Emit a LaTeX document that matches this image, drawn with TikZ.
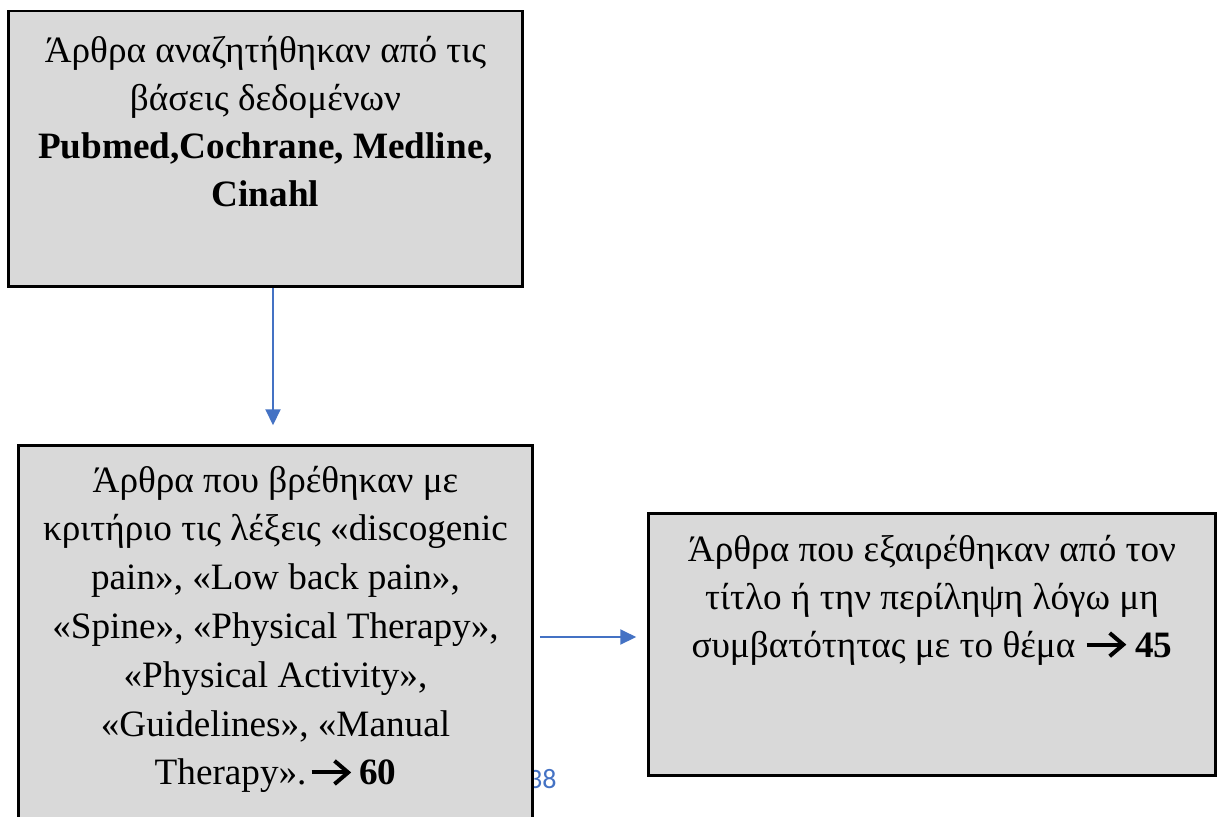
\documentclass[tikz,border=0pt]{standalone}
\usepackage{fontspec}
\setmainfont{Liberation Serif}
\newfontfamily\pgnumfont{Carlito}
\usetikzlibrary{arrows.meta}
\definecolor{boxgray}{HTML}{D9D9D9}
\definecolor{arrblue}{HTML}{4472C4}
\newcommand{\chevarrow}{\tikz[baseline=0pt,x=1pt,y=1pt]{\draw[line width=2pt, line cap=butt] (0,6.2) -- (18,6.2); \draw[line width=2pt, line join=miter] (11.5,12) -- (18.3,6.2) -- (11.5,0.4);}}
\begin{document}
\begin{tikzpicture}[x=0.5pt,y=-0.5pt,
  box/.style={draw=black, fill=boxgray, line width=1.25pt, inner sep=0pt, rectangle},
  txt/.style={inner sep=0pt, anchor=north, align=center, font=\fontsize{18.6pt}{24pt}\selectfont},
  arr/.style={draw=arrblue, line width=1pt, -{Triangle[length=8pt,width=7.5pt]}},
  pgnum/.style={inner sep=0pt, anchor=base east, text=arrblue, font=\pgnumfont\fontsize{14pt}{16pt}\selectfont}]
\clip (0,0) rectangle (1222,816);
\fill[white] (0,0) rectangle (1222,816);
% boxes
\node[box, minimum width=257pt, minimum height=137.75pt] (b1) at (265.5,148.75) {};
\node[txt] (l1) at (265.5,28) {\strut Άρθρα αναζητήθηκαν από τις\\βάσεις δεδομένων\\\textbf{Pubmed,Cochrane, Medline,}\\\textbf{Cinahl}};
\node[pgnum] (pn) at (557,788) {38};
\node[box, minimum width=257pt, minimum height=227.25pt] (b2) at (275.5,672.75) {};
\node[txt, font=\fontsize{18.6pt}{24.4pt}\selectfont] (l2) at (275.5,457.5) {\strut Άρθρα που βρέθηκαν με\\κριτήριο τις λέξεις «discogenic\\pain», «Low back pain»,\\«Spine», «Physical Therapy»,\\«Physical Activity»,\\«Guidelines», «Manual\\Therapy».\hspace{1.5pt}\chevarrow\hspace{4.5pt}\textbf{60}};
\node[box, minimum width=283.5pt, minimum height=131pt] (b3) at (932,644.5) {};
\node[txt] (l3) at (932,527) {\strut Άρθρα που εξαιρέθηκαν από τον\\τίτλο ή την περίληψη λόγω μη\\συμβατότητας με το θέμα \chevarrow\hspace{5pt}\textbf{45}};
% connectors
\coordinate (c1) at (273,0);
\coordinate (c2) at (0,637);
\draw[arr, shorten >=9.5pt] (c1 |- b1.south) -- (c1 |- b2.north);
\draw[arr, shorten <=3pt, shorten >=5.5pt] (b2.east |- c2) -- (b3.west |- c2);
\end{tikzpicture}
\end{document}
